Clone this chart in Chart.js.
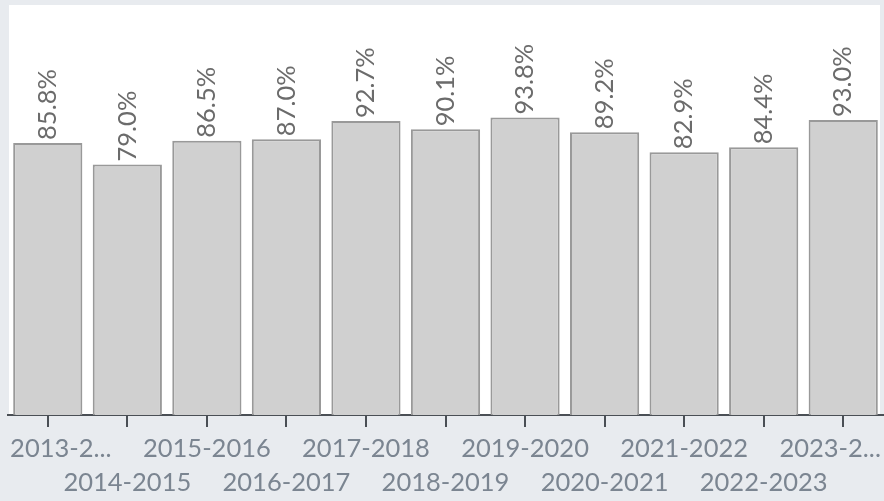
<!DOCTYPE html>
<html>
<head>
<meta charset="utf-8">
<script src="https://cdn.jsdelivr.net/npm/chart.js@4/dist/chart.umd.min.js"></script>
<style>
  html, body { margin: 0; padding: 0; background: #e8ebef; }
  #wrap { width: 884px; height: 501px; position: relative; }
</style>
</head>
<body>
<div id="wrap"><canvas id="c" width="884" height="501"></canvas></div>
<script>
const categories = ["2013-2014", "2014-2015", "2015-2016", "2016-2017", "2017-2018", "2018-2019",
  "2019-2020", "2020-2021", "2021-2022", "2022-2023", "2023-2024"];
const tickLabels = ["2013-2...", "2014-2015", "2015-2016", "2016-2017", "2017-2018", "2018-2019",
  "2019-2020", "2020-2021", "2021-2022", "2022-2023", "2023-2..."];
const values = [85.8, 79.0, 86.5, 87.0, 92.7, 90.1, 93.8, 89.2, 82.9, 84.4, 93.0];

const FONT = 'Lato, "Open Sans", sans-serif';

const panelPlugin = {
  id: 'panel',
  beforeDraw(chart) {
    const { ctx, chartArea: a } = chart;
    ctx.save();
    ctx.fillStyle = '#e8ebef';
    ctx.fillRect(0, 0, chart.width, chart.height);
    ctx.fillStyle = '#ffffff';
    ctx.fillRect(a.left + 1, a.top, a.right - a.left - 4, a.bottom - a.top);
    ctx.restore();
  }
};

const valueLabels = {
  id: 'valueLabels',
  afterDatasetsDraw(chart) {
    const { ctx } = chart;
    const meta = chart.getDatasetMeta(0);
    ctx.save();
    ctx.font = '25.5px ' + FONT;
    ctx.fillStyle = '#6b6b6b';
    ctx.textAlign = 'left';
    ctx.textBaseline = 'middle';
    meta.data.forEach((bar, i) => {
      ctx.save();
      ctx.translate(bar.x, bar.y - 3);
      ctx.rotate(-Math.PI / 2);
      ctx.fillText(values[i].toFixed(1) + '%', 0, 0);
      ctx.restore();
    });
    ctx.restore();
  }
};

new Chart(document.getElementById('c'), {
  type: 'bar',
  data: {
    labels: categories,
    datasets: [{
      data: values,
      backgroundColor: '#d0d0d0',
      borderColor: '#999999',
      borderWidth: 2,
      borderSkipped: 'bottom',
      categoryPercentage: 1.0,
      barPercentage: 0.87
    }]
  },
  options: {
    responsive: false,
    animation: false,
    devicePixelRatio: 1,
    layout: { padding: { left: 8, right: 1, top: 5, bottom: 0 } },
    plugins: { legend: { display: false }, tooltip: { enabled: false } },
    scales: {
      y: { display: false, min: 0, max: 129.3 },
      x: {
        afterFit: function (scale) {
          scale.paddingLeft = 0;
          scale.paddingRight = 0;
          scale.height = 86;
        },
        border: { display: true, color: '#4a4f55', width: 2 },
        grid: { display: true, offset: false, drawOnChartArea: false, drawTicks: true, tickLength: 12, color: '#4a4f55', lineWidth: 2 },
        ticks: {
          autoSkip: false,
          maxRotation: 0,
          minRotation: 0,
          padding: 5,
          color: '#7b8591',
          font: { family: FONT, size: 25.5, lineHeight: 1.32 },
          callback: function (value, index) {
            let t = tickLabels[index];
            if (index === 0) t = '    ' + t;
            if (index === tickLabels.length - 1) t = t + '    ';
            return index % 2 === 0 ? [t, ''] : ['', t];
          }
        }
      }
    }
  },
  plugins: [panelPlugin, valueLabels]
});
</script>
</body>
</html>
